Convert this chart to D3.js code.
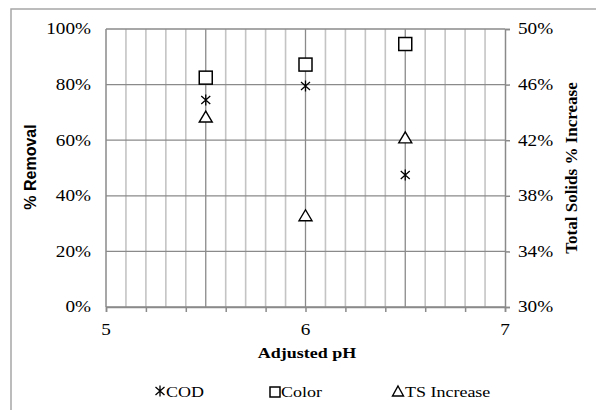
<!DOCTYPE html>
<html><head><meta charset="utf-8">
<script src="https://cdn.jsdelivr.net/npm/d3@7"></script>
<style>body{margin:0;background:#fff}svg{display:block}text{font-family:"Liberation Serif","Times New Roman",serif;fill:#000}</style>
</head><body><svg id="c" width="596" height="410"></svg>
<script>
const phValues = [5.5, 6, 6.5];
const codRemoval = [0.745, 0.795, 0.475];
const colorRemoval = [0.825, 0.872, 0.946];
const tsIncrease = [0.437, 0.366, 0.422];
const xTickLabels = [5, 6, 7];
const leftTicks = [0, 0.2, 0.4, 0.6, 0.8, 1.0];
const rightTicks = [0.30, 0.34, 0.38, 0.42, 0.46, 0.50];
const legendLabels = ["COD", "Color", "TS Increase"];

const svg = d3.select("#c");
const x = d3.scaleLinear().domain([5, 7]).range([106, 505]);
const yL = d3.scaleLinear().domain([0, 1]).range([307, 29]);
const yR = d3.scaleLinear().domain([0.30, 0.50]).range([307, 29]);
const SX = 1.2;

function txt(g, x0, y0, s, opts) {
  opts = opts || {};
  const sc = opts.rot ? `scale(1,${opts.sy || 1})` : `scale(${opts.sx || SX},1)`;
  const t = g.append("text")
    .attr("transform", `translate(${x0},${y0})` + (opts.rot ? ` rotate(${opts.rot})` : "") + ` ${sc}`)
    .attr("text-anchor", opts.anchor || "middle")
    .attr("dominant-baseline", "central")
    .style("font-size", (opts.size || 15) + "px")
    .style("font-weight", opts.bold ? "bold" : "normal")
    .text(s);
  if (opts.family) t.style("font-family", opts.family);
  return t;
}

// outer frame
svg.append("path").attr("d", "M11,410 L11,9 L596,9").attr("fill", "none").attr("stroke", "#a6a6a6").attr("stroke-width", 1.5);

// minor vertical gridlines every 0.1
const minor = d3.range(51, 70).map(v => v / 10).filter(v => ![5.5, 6, 6.5].includes(v));
svg.append("g").selectAll("line").data(minor).join("line")
  .attr("x1", d => x(d)).attr("x2", d => x(d)).attr("y1", yL(1)).attr("y2", yL(0))
  .attr("stroke", "#c4c4c4").attr("stroke-width", 1.6);
// major vertical lines
svg.append("g").selectAll("line").data([5.5, 6, 6.5]).join("line")
  .attr("x1", d => x(d)).attr("x2", d => x(d)).attr("y1", yL(1)).attr("y2", yL(0))
  .attr("stroke", "#8a8a8a").attr("stroke-width", 1.3);
// horizontal gridlines
svg.append("g").selectAll("line").data(leftTicks).join("line")
  .attr("x1", x(5)).attr("x2", x(7)).attr("y1", d => yL(d)).attr("y2", d => yL(d))
  .attr("stroke", "#8a8a8a").attr("stroke-width", 1.3);

// bottom axis with ticks every 0.2
const xAxis = d3.axisBottom(x).tickValues(d3.range(0, 11).map(i => 5 + i * 0.2)).tickSize(5).tickFormat("");
const gx = svg.append("g").attr("transform", `translate(0,${yL(0)})`).call(xAxis);
gx.select(".domain").attr("stroke", "#8a8a8a").attr("stroke-width", 1.5);
gx.selectAll(".tick line").attr("stroke", "#8a8a8a").attr("stroke-width", 1.5);

// left axis line
svg.append("line").attr("x1", x(5)).attr("x2", x(5)).attr("y1", yL(1)).attr("y2", yL(0)).attr("stroke", "#8a8a8a").attr("stroke-width", 1.5);
// right axis
const rAxis = d3.axisRight(yR).tickValues(rightTicks).tickSize(5).tickFormat("");
const gr = svg.append("g").attr("transform", `translate(${x(7)},0)`).call(rAxis);
gr.select(".domain").attr("stroke", "#8a8a8a").attr("stroke-width", 1.5);
gr.selectAll(".tick line").attr("stroke", "#8a8a8a").attr("stroke-width", 1.5);

// tick labels
const gl = svg.append("g");
leftTicks.forEach(v => txt(gl, 91, yL(v), d3.format(".0%")(v), {anchor: "end", size: 16}));
rightTicks.forEach(v => txt(gl, 518, yR(v), d3.format(".0%")(v), {anchor: "start", size: 16}));
xTickLabels.forEach(v => txt(gl, x(v), 330, String(v), {size: 16}));

// axis titles
txt(gl, 30, 167, "% Removal", {rot: -90, bold: true, size: 16, sy: 1.05, family: '"Liberation Sans", Arial, sans-serif'});
txt(gl, 571, 168, "Total Solids % Increase", {rot: -90, bold: true, size: 17});
txt(gl, 307, 353, "Adjusted pH", {bold: true, size: 15});

// markers
function star(g, cx, cy) {
  const h = 5.5, w = 4.5;
  g.append("path").attr("d",
    `M${cx},${cy - h}L${cx},${cy + h}M${cx - w},${cy - h + 1.5}L${cx + w},${cy + h - 1.5}M${cx + w},${cy - h + 1.5}L${cx - w},${cy + h - 1.5}`)
    .attr("stroke", "#000").attr("stroke-width", 1.3).attr("fill", "none");
}
function square(g, cx, cy, s) {
  g.append("rect").attr("x", cx - s / 2).attr("y", cy - s / 2).attr("width", s).attr("height", s)
    .attr("fill", "#fff").attr("stroke", "#000").attr("stroke-width", 1.5);
}
function tri(g, cx, cy, w, h) {
  g.append("path").attr("d", `M${cx},${cy - h / 2}L${cx + w / 2},${cy + h / 2}L${cx - w / 2},${cy + h / 2}Z`)
    .attr("fill", "#fff").attr("stroke", "#000").attr("stroke-width", 1.4);
}
const gm = svg.append("g");
phValues.forEach((p, i) => square(gm, x(p), yL(colorRemoval[i]), 13));
phValues.forEach((p, i) => tri(gm, x(p), yR(tsIncrease[i]), 13, 11));
phValues.forEach((p, i) => star(gm, x(p), yL(codRemoval[i])));

// legend
const lg = svg.append("g");
star(lg, 160, 391);
txt(lg, 166, 392, legendLabels[0], {anchor: "start", size: 15});
square(lg, 275, 392, 10);
txt(lg, 281, 392, legendLabels[1], {anchor: "start", size: 15});
tri(lg, 398, 391, 11, 10);
txt(lg, 405, 392, legendLabels[2], {anchor: "start", size: 15});
</script></body></html>
